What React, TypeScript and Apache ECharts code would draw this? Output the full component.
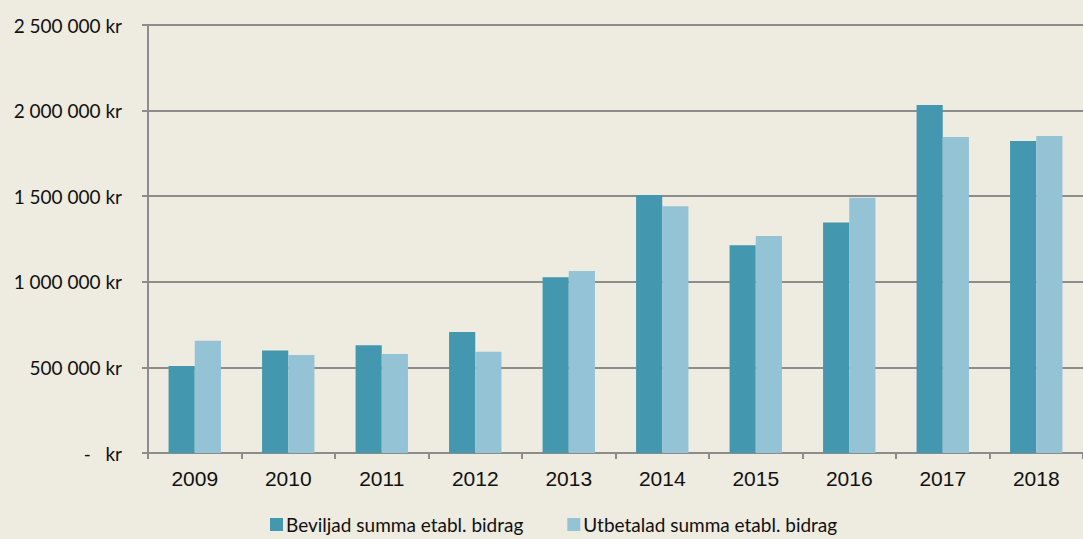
import React, { useEffect, useRef } from "react";
import * as echarts from "echarts";

const years = ["2009", "2010", "2011", "2012", "2013", "2014", "2015", "2016", "2017", "2018"];
const beviljad = [508000, 598000, 629000, 707000, 1026000, 1507000, 1213000, 1347000, 2033000, 1822000];
const utbetalad = [656000, 572000, 578000, 592000, 1063000, 1441000, 1268000, 1491000, 1846000, 1852000];
const seriesNames = ["Beviljad summa etabl. bidrag", "Utbetalad summa etabl. bidrag"];

function fmt(v: number): string {
  if (v === 0) return "-   kr";
  const s = String(Math.round(v));
  return s.replace(/\B(?=(\d{3})+(?!\d))/g, " ") + " kr";
}

export default function App() {
  const ref = useRef<HTMLDivElement>(null);
  useEffect(() => {
    document.body.style.margin = "0";
    const chart = echarts.init(ref.current!, undefined, { renderer: "svg" });
    const axisColor = "#8c8c8c";
    chart.setOption({
      animation: false,
      backgroundColor: "#EEEBE0",
      grid: { left: 148, top: 25, width: 947, height: 428 },
      legend: {
        left: 270,
        top: 515,
        padding: 0,
        itemWidth: 13,
        itemHeight: 13,
        itemGap: 44,
        icon: "rect",
        textStyle: { fontFamily: "Lato", fontSize: 19, color: "#111", padding: [0, 0, 0, -2] },
        data: seriesNames,
      },
      xAxis: {
        type: "category",
        data: years,
        axisLine: { lineStyle: { color: axisColor, width: 2 } },
        axisTick: { show: true, length: 6, lineStyle: { color: axisColor, width: 2 } },
        axisLabel: { fontFamily: "Liberation Sans", fontSize: 21, color: "#111", margin: 15 },
      },
      yAxis: {
        type: "value",
        min: 0,
        max: 2500000,
        interval: 500000,
        axisLine: { show: true, lineStyle: { color: axisColor, width: 2 } },
        axisTick: { show: true, length: 6, lineStyle: { color: axisColor, width: 2 } },
        splitLine: { lineStyle: { color: axisColor, width: 2 } },
        axisLabel: {
          fontFamily: "Lato",
          fontSize: 19,
          color: "#111",
          margin: 26,
          formatter: (v: number) => fmt(v),
        },
      },
      series: [
        {
          name: seriesNames[0],
          type: "bar",
          data: beviljad,
          barGap: "0%",
          barCategoryGap: "44%",
          itemStyle: { color: "#4398B0" },
        },
        {
          name: seriesNames[1],
          type: "bar",
          data: utbetalad,
          itemStyle: { color: "#93C3D5" },
        },
      ],
    });
    return () => chart.dispose();
  }, []);
  return (
    <div
      ref={ref}
      style={{ position: "absolute", left: 0, top: 0, width: 1083, height: 539 }}
    />
  );
}
